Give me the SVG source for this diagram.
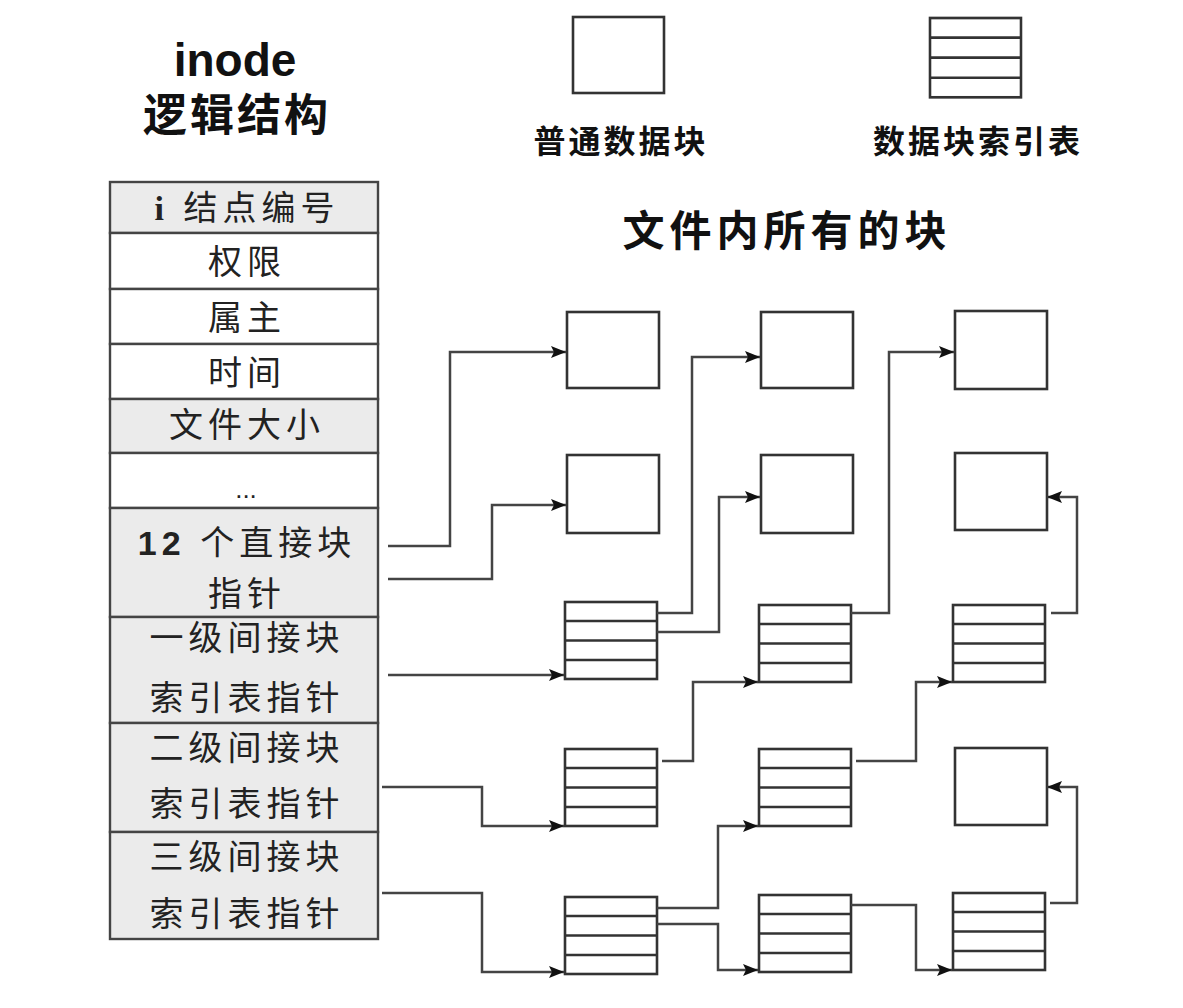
<svg xmlns="http://www.w3.org/2000/svg" width="1183" height="1008" viewBox="0 0 1183 1008">
<style>
.bg{fill:#ffffff}
.cell{stroke:#444;stroke-width:2.4}
.g{fill:#ebebeb}
.w{fill:#ffffff}
.blk{fill:#fff;stroke:#333;stroke-width:2.6}
.ln{stroke:#333;stroke-width:2.6}
.con{fill:none;stroke:#444;stroke-width:2.5;marker-end:url(#ah)}
.t{font-family:"Liberation Sans","Noto Sans CJK SC",sans-serif;font-size:34px;fill:#222;text-anchor:middle;letter-spacing:5px}
.h{font-family:"Liberation Sans","Noto Sans CJK SC",sans-serif;font-weight:bold;fill:#111;text-anchor:middle}
</style>
<defs>
<marker id="ah" markerUnits="userSpaceOnUse" markerWidth="16" markerHeight="12" refX="15" refY="6" orient="auto">
<path d="M0,0 L15,6 L0,12 L3,6 z" fill="#111"/>
</marker>
<g id="tbl">
<rect class="blk" x="0" y="0" width="92" height="77"/>
<line class="ln" x1="0" y1="19" x2="92" y2="19"/>
<line class="ln" x1="0" y1="38.5" x2="92" y2="38.5"/>
<line class="ln" x1="0" y1="58" x2="92" y2="58"/>
</g>
</defs>
<rect class="bg" x="0" y="0" width="1183" height="1008"/>

<g id="title">
<text class="h" x="235" y="76" style="font-size:46px">inode</text>
<text class="h" x="237" y="131" style="font-size:44px;letter-spacing:3px">逻辑结构</text>
</g>

<g id="legend-block">
<rect class="blk" x="573" y="17" width="91" height="76"/>
<text class="h" x="621" y="153" style="font-size:32px;letter-spacing:3px">普通数据块</text>
</g>
<g id="legend-index">
<use href="#tbl" x="930" y="18" transform="translate(930,18) scale(0.989,1.03) translate(-930,-18)"/>
<text class="h" x="978" y="153" style="font-size:32px;letter-spacing:3px">数据块索引表</text>
</g>

<g id="files-title">
<text class="h" x="787" y="246" style="font-size:42px;letter-spacing:5px">文件内所有的块</text>
</g>

<g id="inode-table">
<rect class="cell g" x="110" y="182" width="268" height="51"/>
<rect class="cell w" x="110" y="233" width="268" height="56"/>
<rect class="cell w" x="110" y="289" width="268" height="55"/>
<rect class="cell w" x="110" y="344" width="268" height="55"/>
<rect class="cell g" x="110" y="399" width="268" height="54"/>
<rect class="cell w" x="110" y="453" width="268" height="55"/>
<rect class="cell g" x="110" y="508" width="268" height="109"/>
<rect class="cell g" x="110" y="617" width="268" height="106"/>
<rect class="cell g" x="110" y="723" width="268" height="109"/>
<rect class="cell g" x="110" y="832" width="268" height="107"/>
<text class="t" x="247" y="220"><tspan style="font-family:'Liberation Serif',serif;font-weight:bold">i</tspan> 结点编号</text>
<text class="t" x="247" y="274">权限</text>
<text class="t" x="247" y="330">属主</text>
<text class="t" x="247" y="385">时间</text>
<text class="t" x="247" y="437">文件大小</text>
<text class="t" x="246" y="498" style="font-size:26px;letter-spacing:0px">...</text>
<text class="t" x="247" y="555"><tspan style="font-weight:bold">12</tspan> 个直接块</text>
<text class="t" x="247" y="606">指针</text>
<text class="t" x="247" y="650">一级间接块</text>
<text class="t" x="247" y="710">索引表指针</text>
<text class="t" x="247" y="760">二级间接块</text>
<text class="t" x="247" y="816">索引表指针</text>
<text class="t" x="247" y="869">三级间接块</text>
<text class="t" x="247" y="926">索引表指针</text>
</g>

<g id="b-r1c1"><rect class="blk" x="567" y="312" width="92" height="76"/></g>
<g id="b-r1c2"><rect class="blk" x="761" y="312" width="92" height="76"/></g>
<g id="b-r1c3"><rect class="blk" x="955" y="311" width="92" height="78"/></g>
<g id="b-r2c1"><rect class="blk" x="567" y="455" width="92" height="78"/></g>
<g id="b-r2c2"><rect class="blk" x="761" y="455" width="92" height="78"/></g>
<g id="b-r2c3"><rect class="blk" x="955" y="453" width="92" height="77"/></g>
<g id="t-r3c1"><use href="#tbl" x="565" y="602"/></g>
<g id="t-r3c2"><use href="#tbl" x="759" y="605"/></g>
<g id="t-r3c3"><use href="#tbl" x="953" y="605"/></g>
<g id="t-r4c1"><use href="#tbl" x="565" y="749"/></g>
<g id="t-r4c2"><use href="#tbl" x="759" y="749"/></g>
<g id="b-r4c3"><rect class="blk" x="955" y="748" width="92" height="77"/></g>
<g id="t-r5c1"><use href="#tbl" x="565" y="897"/></g>
<g id="t-r5c2"><use href="#tbl" x="759" y="895"/></g>
<g id="t-r5c3"><use href="#tbl" x="953" y="893"/></g>

<g id="connectors">
<path class="con" d="M388,546 H450 V352 H566"/>
<path class="con" d="M388,579 H492 V505 H566"/>
<path class="con" d="M657,613 H692 V357 H760"/>
<path class="con" d="M657,632 H719 V497 H760"/>
<path class="con" d="M851,613 H889 V352 H954"/>
<path class="con" d="M1051,613 H1077 V497 H1047"/>
<path class="con" d="M388,675 H564"/>
<path class="con" d="M662,761 H693 V682 H758"/>
<path class="con" d="M856,761 H916 V682 H952"/>
<path class="con" d="M382,787 H482 V826 H564"/>
<path class="con" d="M1050,903 H1077 V787 H1047"/>
<path class="con" d="M382,893 H482 V972 H564"/>
<path class="con" d="M657,908 H718 V826 H758"/>
<path class="con" d="M657,924 H718 V970 H758"/>
<path class="con" d="M851,905 H916 V970 H952"/>
</g>
</svg>
